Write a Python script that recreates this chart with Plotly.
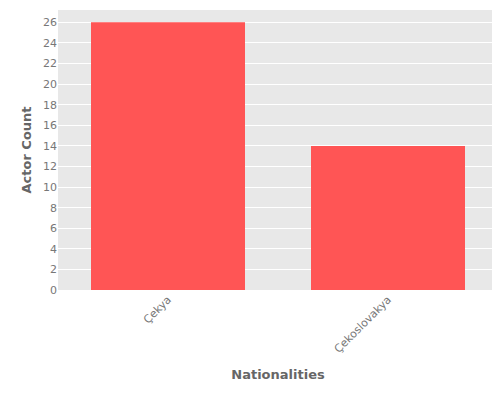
import plotly.graph_objects as go

nationalities = ["Çekya", "Çekoslovakya"]
actor_counts = [26, 14]

fig = go.Figure(go.Bar(
    x=nationalities,
    y=actor_counts,
    marker=dict(color="#ff5555", line=dict(width=0)),
    width=0.7,
))

fig.update_layout(
    width=500, height=400,
    margin=dict(l=50, r=10, t=2, b=118, autoexpand=False),
    paper_bgcolor="white",
    plot_bgcolor="#e8e8e8",
    font=dict(family="DejaVu Sans, Verdana, sans-serif", size=11, color="#777777"),
    showlegend=False,
    xaxis=dict(
        title=dict(text="<b>Nationalities</b>", font=dict(size=13, color="#666666")),
        tickangle=-45, showgrid=False, ticks="",
    ),
    yaxis=dict(
        title=dict(text="<b>Actor Count</b>", font=dict(size=13, color="#666666"), standoff=8),
        range=[0, 27.2], dtick=2, gridcolor="white", zeroline=False, ticks="",
    ),
)

fig.write_html("out.html")
